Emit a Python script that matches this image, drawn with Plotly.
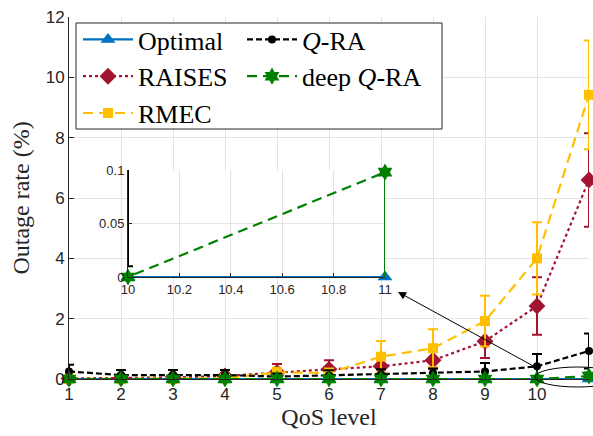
import plotly.graph_objects as go

# ---- data ----
qos = [1, 2, 3, 4, 5, 6, 7, 8, 9, 10, 11]
optimal = [0, 0, 0, 0, 0, 0, 0, 0, 0, 0, 0]
optimal_err = [0, 0, 0, 0, 0, 0, 0, 0, 0, 0, 0]
qra = [0.25, 0.13, 0.13, 0.13, 0.08, 0.12, 0.15, 0.20, 0.25, 0.42, 0.93]
qra_err = [0.22, 0.17, 0.17, 0.17, 0.10, 0.17, 0.17, 0.15, 0.28, 0.41, 0.58]
raises = [0.02, 0.03, 0.05, 0.10, 0.22, 0.32, 0.42, 0.62, 1.25, 2.42, 6.60]
raises_err = [0.05, 0.05, 0.08, 0.10, 0.28, 0.30, 0.25, 0.28, 0.55, 0.95, 1.55]
rmec = [0.0, 0.0, 0.0, 0.02, 0.22, 0.20, 0.74, 1.02, 1.92, 4.00, 9.42]
rmec_err = [0.02, 0.02, 0.02, 0.05, 0.15, 0.15, 0.52, 0.63, 0.84, 1.20, 1.80]
deep_qra = [0, 0, 0, 0, 0, 0, 0, 0, 0, 0, 0.098]
deep_qra_err = [0, 0, 0, 0, 0, 0, 0, 0, 0, 0, 0.12]

main_xrange = [1, 11]
main_yrange = [0, 12]
main_xticks = list(range(1, 12))
main_yticks = [0, 2, 4, 6, 8, 10, 12]
inset_xrange = [10, 11]
inset_yrange = [0, 0.1]
inset_xticks = [10, 10.2, 10.4, 10.6, 10.8, 11]
inset_xlabels = ["10", "10.2", "10.4", "10.6", "10.8", "11"]
inset_yticks = [0, 0.05, 0.1]
inset_ylabels = ["0", "0.05", "0.1"]

W, H = 593, 436
ML, MR, MT, MB = 69, 4, 17, 57
PW, PH = W - ML - MR, H - MT - MB
inset_px = dict(left=128, right=385, top=170, bottom=277)

series = [
    dict(name="Optimal", y=optimal, e=optimal_err, color="#0072BD", dash="solid",
         symbol="triangle-up", size=13, legend="legend"),
    dict(name="RAISES", y=raises, e=raises_err, color="#A2142F", dash="dot",
         symbol="diamond", size=13, legend="legend"),
    dict(name="RMEC", y=rmec, e=rmec_err, color="#FFBF00", dash="10px,6px",
         symbol="square", size=10, legend="legend"),
    dict(name="<i>Q</i>-RA", y=qra, e=qra_err, color="#000000", dash="6px,3px",
         symbol="circle", size=8, legend="legend2"),
    dict(name="deep <i>Q</i>-RA", y=deep_qra, e=deep_qra_err, color="#008000", dash="10px,6px",
         symbol="hexagram", size=13, legend="legend2"),
]

fig = go.Figure()
for s in series:
    fig.add_trace(go.Scatter(
        x=qos, y=s["y"], name=s["name"], mode="lines+markers",
        line=dict(color=s["color"], width=2.2, dash=s["dash"]),
        marker=dict(symbol=s["symbol"], size=s["size"], color=s["color"],
                    line=dict(width=0)),
        error_y=dict(type="data", array=s["e"], visible=True, color=s["color"],
                     thickness=2, width=5),
        legend=s["legend"], cliponaxis=False,
    ))
for s in series:
    fig.add_trace(go.Scatter(
        x=qos, y=s["y"], name=s["name"], mode="lines+markers", showlegend=False,
        line=dict(color=s["color"], width=2.2, dash=s["dash"]),
        marker=dict(symbol=s["symbol"], size=s["size"], color=s["color"],
                    line=dict(width=0)),
        error_y=dict(type="data", array=s["e"], visible=True, color=s["color"],
                     thickness=2, width=5),
        xaxis="x2", yaxis="y2", cliponaxis=False,
    ))

# pixel -> paper (plot-area fraction) conversions
def px_x(p):
    return (p - ML) / PW

def px_y(p):
    return 1 - (p - MT) / PH

# pixel -> main data coords
def dx(p):
    return main_xrange[0] + (p - ML) / PW * (main_xrange[1] - main_xrange[0])

def dy(p):
    return main_yrange[0] + (1 - (p - MT) / PH) * (main_yrange[1] - main_yrange[0])

sans = "Liberation Sans, Arial, sans-serif"
serif = "Liberation Serif, Times New Roman, serif"
tick_font = dict(family=sans, size=17, color="#262626")
inset_font = dict(family=sans, size=13, color="#262626")
grid = "#E3E3E3"
axcol = "#262626"

common = dict(showgrid=True, gridcolor=grid, gridwidth=1,
              showline=True, linecolor=axcol, linewidth=1,
              ticks="inside", tickcolor=axcol, zeroline=False, automargin=False)

legend_font = dict(family=serif, size=26, color="#000000")

fig.update_layout(
    width=W, height=H, template="none",
    margin=dict(l=ML, r=MR, t=MT, b=MB),
    paper_bgcolor="white", plot_bgcolor="white",
    xaxis=dict(domain=[0, 1], range=main_xrange, tickvals=main_xticks, ticklen=5,
               tickfont=tick_font,
               title=dict(text="QoS level", font=dict(family=serif, size=24, color="#262626"),
                          standoff=2), **common),
    yaxis=dict(domain=[0, 1], range=main_yrange, tickvals=main_yticks, ticklen=5,
               tickfont=tick_font,
               title=dict(text="Outage rate (%)", font=dict(family=serif, size=24, color="#262626"),
                          standoff=9), **common),
    xaxis2=dict(domain=[px_x(inset_px["left"]), px_x(inset_px["right"])],
                anchor="y2", range=inset_xrange, tickvals=inset_xticks, ticktext=inset_xlabels,
                ticklen=4, tickfont=inset_font, **common),
    yaxis2=dict(domain=[px_y(inset_px["bottom"]), px_y(inset_px["top"])],
                anchor="x2", range=inset_yrange, tickvals=inset_yticks, ticktext=inset_ylabels,
                ticklen=4, tickfont=inset_font, **common),
    legend=dict(x=px_x(78), y=px_y(16), xanchor="left", yanchor="top",
                bgcolor="rgba(0,0,0,0)", borderwidth=0, itemwidth=50,
                font=legend_font, traceorder="normal"),
    legend2=dict(x=px_x(242), y=px_y(16), xanchor="left", yanchor="top",
                 bgcolor="rgba(0,0,0,0)", borderwidth=0, itemwidth=50,
                 font=legend_font, traceorder="normal"),
    showlegend=True,
)

# white background under the inset (between main grid and main traces)
fig.add_shape(type="rect", xref="x", yref="y",
              x0=dx(inset_px["left"]), x1=dx(inset_px["right"]),
              y0=dy(inset_px["bottom"]), y1=dy(inset_px["top"]),
              fillcolor="white", line=dict(width=0), layer="between")
# main horizontal grid lines remain visible across the inset
for v in main_yticks:
    if dy(inset_px["bottom"]) < v < dy(inset_px["top"]):
        fig.add_shape(type="line", xref="x", yref="y",
                      x0=dx(inset_px["left"]), x1=dx(inset_px["right"]), y0=v, y1=v,
                      line=dict(color=grid, width=1), layer="between")

# legend box
fig.add_shape(type="rect", xref="paper", yref="paper",
              x0=px_x(76), x1=px_x(442), y0=px_y(129), y1=px_y(23),
              fillcolor="white", line=dict(color="#262626", width=1), layer="above")

# ellipse around zoomed region
fig.add_shape(type="circle", xref="paper", yref="paper",
              x0=px_x(535), x1=px_x(620), y0=px_y(387), y1=px_y(367),
              line=dict(color="black", width=1), layer="above")

# arrow pointing to the inset
fig.add_annotation(x=px_x(398), y=px_y(292), xref="paper", yref="paper",
                   ax=537 - 398, ay=368 - 292, axref="pixel", ayref="pixel",
                   showarrow=True, arrowhead=2, arrowsize=1.6, arrowwidth=1,
                   arrowcolor="black", text="")

fig.write_html("out.html")
